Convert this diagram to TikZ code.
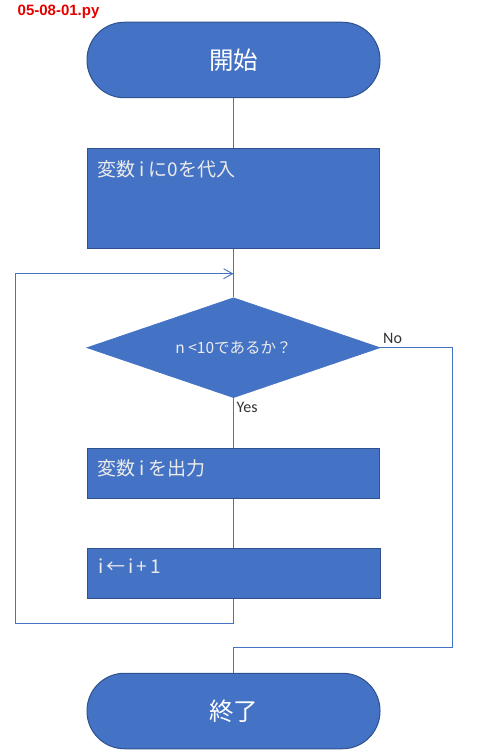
\documentclass[tikz,border=0pt]{standalone}
\usepackage{fontspec}
\setmainfont{Carlito}
\newfontfamily\jp{Noto Sans CJK JP}
\newfontfamily\ttl{Liberation Sans}
\usetikzlibrary{shapes.geometric,arrows.meta}
\definecolor{fillb}{HTML}{4472C4}
\definecolor{edgeb}{HTML}{2F528F}
\begin{document}
\begin{tikzpicture}[x=1pt,y=-1pt,
  flow/.style={draw=fillb,line width=1pt},
  term/.style={rectangle,rounded corners=37.5pt,fill=fillb,draw=edgeb,line width=1pt,
    minimum width=293pt,minimum height=75.5pt,inner sep=0pt,text=white,
    font=\jp\fontsize{24.5}{28}\selectfont},
  procbox/.style={rectangle,fill=fillb,draw=edgeb,line width=1pt,inner sep=0pt,
    minimum width=292.5pt},
  boxtext/.style={text=white!92!black,font=\jp\fontsize{19}{22}\selectfont,anchor=west,inner sep=0pt},
  decide/.style={diamond,fill=fillb,draw=fillb,line width=0.6pt,inner sep=0pt,
    minimum width=293.3pt,minimum height=100pt,aspect=2.9,text=white!92!black,
    font=\jp\fontsize{15.5}{18}\selectfont},
  small/.style={font=\fontsize{16}{18}\selectfont,text=black!80,inner sep=0pt}]
\useasboundingbox (0,0) rectangle (487,754);
\node[font=\ttl\bfseries\fontsize{15}{17}\selectfont,text=red!90!black,anchor=west,inner sep=0pt]
  (title) at (17.5,11.5) {05-08-01.py};
\node[term] (start) at (233.5,60) {開始};
\node[procbox,minimum height=100pt] (b1) at (233.5,198.3) {};
\node[boxtext] (t1) at (97,169) {変数 i に0を代入};
\node[decide] (d) at (233.5,347.7) {n <10であるか？};
\node[procbox,minimum height=50pt] (b2) at (233.5,473.3) {};
\node[boxtext] (t2) at (97,468) {変数 i を出力};
\node[procbox,minimum height=50pt] (b3) at (234,573.3) {};
\node[boxtext] (t3) at (98,566) {i\hspace{3pt}←\hspace{3pt}i\hspace{3pt}+\hspace{3pt}1};
\node[term] (end) at (233.5,711) {終了};
\node[small,anchor=north west] (yes) at (236.5,402) {Yes};
\node[small,anchor=south west] (no) at (383,343.5) {No};
\coordinate (m) at (233.5,273.7);
\coordinate (lb) at (233.5,623);
\coordinate (ll) at (15,623);
\coordinate (lt) at (15,273.7);
\coordinate (nr) at (452.3,347.7);
\coordinate (nb) at (452.3,647.3);
\coordinate (nc) at (233.5,647.3);
\draw[flow] (start.south) -- (b1.north);
\draw[flow] (b1.south) -- (d.north);
\draw[flow] (d.south) -- (b2.north);
\draw[flow] (b2.south) -- (b2.south |- b3.north);
\draw[flow] (b3.south -| b2.south) -- (lb) -- (ll) -- (lt);
\draw[flow,-{Straight Barb[length=9pt,width=10pt,line width=0.9pt]}] (lt) -- (m);
\draw[flow] (d.east) -- (nr) -- (nb) -- (nc) -- (end.north);
\end{tikzpicture}
\end{document}
